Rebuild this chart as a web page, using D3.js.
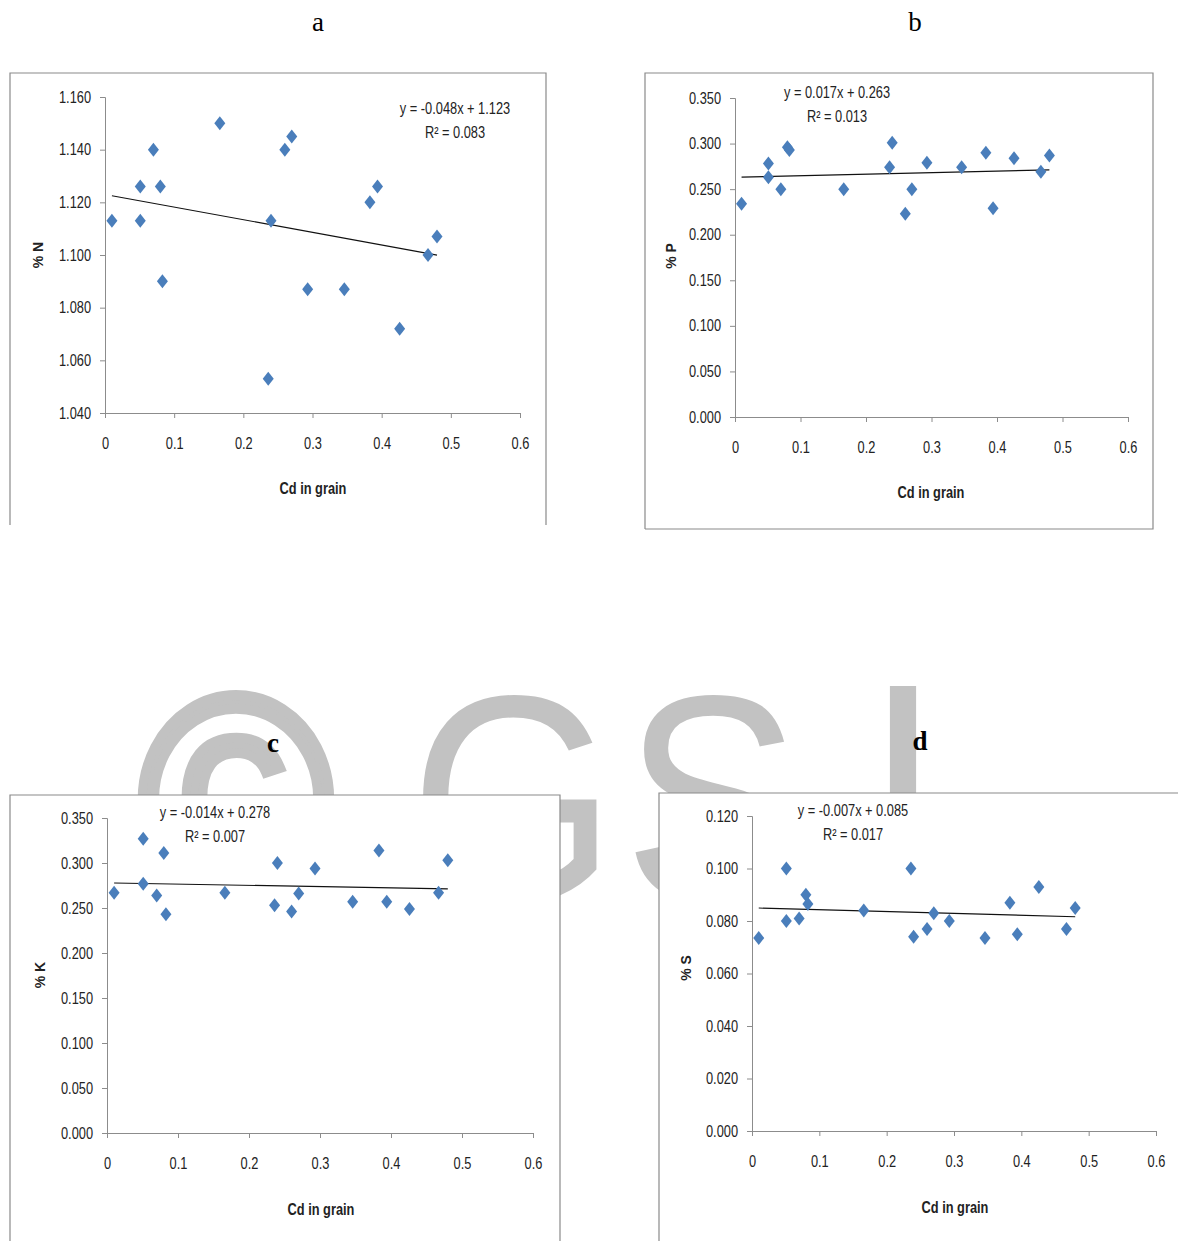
<!DOCTYPE html>
<html>
<head>
<meta charset="utf-8">
<script src="https://cdn.jsdelivr.net/npm/d3@7"></script>
<style>
  body { margin: 0; background: #fff; }
  svg { display: block; }
  .tick text { font-family: "Liberation Sans", Arial, sans-serif; font-size: 16px; fill: #222; }
  .tick line, .domain { stroke: #8c8c8c; }
</style>
</head>
<body>
<div id="chart"></div>
<script>
// values
var cdGrain = [0.010, 0.051, 0.051, 0.070, 0.080, 0.083, 0.166, 0.236, 0.240, 0.260, 0.270, 0.293, 0.346, 0.383, 0.394, 0.426, 0.467, 0.480];
var pctN = [1.113, 1.126, 1.113, 1.140, 1.126, 1.090, 1.150, 1.053, 1.113, 1.140, 1.145, 1.087, 1.087, 1.120, 1.126, 1.072, 1.100, 1.107];
var pctP = [0.234, 0.278, 0.263, 0.250, 0.296, 0.293, 0.250, 0.274, 0.301, 0.223, 0.250, 0.279, 0.274, 0.290, 0.229, 0.284, 0.269, 0.287];
var pctK = [0.267, 0.327, 0.277, 0.264, 0.311, 0.243, 0.267, 0.253, 0.300, 0.246, 0.266, 0.294, 0.257, 0.314, 0.257, 0.249, 0.267, 0.303];
var pctS = [0.0735, 0.100, 0.080, 0.081, 0.090, 0.0865, 0.084, 0.100, 0.074, 0.077, 0.083, 0.080, 0.0735, 0.087, 0.075, 0.093, 0.077, 0.085];

var panelLetters = ["a", "b", "c", "d"];
var yLabels = ["% N", "% P", "% K", "% S"];
var slopes = [-0.048, 0.017, -0.014, -0.007];
var intercepts = [1.123, 0.263, 0.278, 0.085];
var rSquared = ["0.083", "0.013", "0.007", "0.017"];
var yDomains = [[1.04, 1.16], [0, 0.35], [0, 0.35], [0, 0.12]];
var yTicks = [
  [1.04, 1.06, 1.08, 1.10, 1.12, 1.14, 1.16],
  [0, 0.05, 0.10, 0.15, 0.20, 0.25, 0.30, 0.35],
  [0, 0.05, 0.10, 0.15, 0.20, 0.25, 0.30, 0.35],
  [0, 0.02, 0.04, 0.06, 0.08, 0.10, 0.12]
];
var xTicks = [0, 0.1, 0.2, 0.3, 0.4, 0.5, 0.6];
var seriesList = [pctN, pctP, pctK, pctS];

// layout of each panel (pixels); frame = [left, top, right, bottom, drawBottomLine]
var layouts = [
  { frame: [10, 73, 546, 525, false], plot: [105, 520, 97, 413], yl: [38, 255], xl: [313, 488], eq: [455, 108], title: [318, 31], bold: false },
  { frame: [645, 73, 1153, 529, true], plot: [735, 1128, 98, 417], yl: [671, 256], xl: [931, 492], eq: [837, 92], title: [915, 31], bold: false },
  { frame: [10, 795, 560, 1246, false], plot: [107, 533, 818, 1133], yl: [40, 975], xl: [321, 1209], eq: [215, 812], title: [273, 752], bold: true },
  { frame: [659, 793, 1190, 1246, false], plot: [752, 1156, 816, 1131], yl: [686, 968], xl: [955, 1207], eq: [853, 810], title: [920, 750], bold: true }
];

var svgWidth = 1178;
var svgHeight = 1241;
var squeeze = 0.8;

var svg = d3.select("#chart").append("svg")
  .attr("width", svgWidth)
  .attr("height", svgHeight);

// squeeze a text horizontally to imitate the condensed font of the original
function condense(sel) {
  sel.each(function() {
    var w = this.getComputedTextLength();
    d3.select(this).attr("textLength", w * squeeze).attr("lengthAdjust", "spacingAndGlyphs");
  });
}

// watermark behind the panels
var wm = svg.append("g")
  .attr("fill", "#c2c2c2")
  .attr("font-size", 295);
var wmFont = '"Liberation Sans", Arial, sans-serif';
[["\u00A9", 236, 10, wmFont], ["G", 513, 0, wmFont], ["S", 712, 0, wmFont], ["J", 903, 0, '"DejaVu Sans", sans-serif']].forEach(function(w) {
  wm.append("text")
    .attr("transform", "translate(" + w[1] + ",901) scale(0.9,1)")
    .attr("text-anchor", "middle")
    .attr("font-family", w[3])
    .attr("stroke", w[2] ? "#c2c2c2" : "none")
    .attr("stroke-width", w[2])
    .text(w[0]);
});

var xFmt = function(d) { return d === 0 ? "0" : d3.format(".1f")(d); };
var yFmt = d3.format(".3f");

layouts.forEach(function(L, i) {
  var g = svg.append("g");
  var f = L.frame;

  // white panel background
  g.append("rect")
    .attr("x", f[0]).attr("y", f[1])
    .attr("width", f[2] - f[0]).attr("height", f[3] - f[1])
    .attr("fill", "#fff");

  // frame: left, top, right (+ bottom when visible)
  var pts = [[f[0], f[3]], [f[0], f[1]], [f[2], f[1]], [f[2], f[3]]];
  if (f[4]) pts.push([f[0], f[3]]);
  g.append("path")
    .attr("d", d3.line()(pts))
    .attr("fill", "none")
    .attr("stroke", "#8a8a8a")
    .attr("stroke-width", 1.2);

  // panel title
  svg.append("text")
    .attr("x", L.title[0]).attr("y", L.title[1])
    .attr("text-anchor", "middle")
    .attr("font-family", '"Liberation Serif", "Times New Roman", serif')
    .attr("font-size", 27)
    .attr("font-weight", L.bold ? "bold" : "normal")
    .text(panelLetters[i]);

  var x = d3.scaleLinear().domain([0, 0.6]).range([L.plot[0], L.plot[1]]);
  var y = d3.scaleLinear().domain(yDomains[i]).range([L.plot[3], L.plot[2]]);

  var xAxis = g.append("g")
    .attr("transform", "translate(0," + L.plot[3] + ")")
    .call(d3.axisBottom(x).tickValues(xTicks).tickFormat(xFmt).tickSize(5).tickPadding(20));

  var yAxis = g.append("g")
    .attr("transform", "translate(" + L.plot[0] + ",0)")
    .call(d3.axisLeft(y).tickValues(yTicks[i]).tickFormat(yFmt).tickSize(5).tickPadding(9));

  xAxis.selectAll("text").call(condense);
  yAxis.selectAll("text").call(condense);

  // trend line
  var series = seriesList[i];
  var x0 = d3.min(cdGrain), x1 = d3.max(cdGrain);
  g.append("line")
    .attr("x1", x(x0)).attr("y1", y(slopes[i] * x0 + intercepts[i]))
    .attr("x2", x(x1)).attr("y2", y(slopes[i] * x1 + intercepts[i]))
    .attr("stroke", "#111")
    .attr("stroke-width", 1.1);

  // diamond markers
  g.selectAll("path.pt")
    .data(series)
    .enter()
    .append("path")
    .attr("class", "pt")
    .attr("d", function(d, j) {
      var cx = x(cdGrain[j]), cy = y(d);
      return "M" + cx + "," + (cy - 7) + "L" + (cx + 5.5) + "," + cy +
        "L" + cx + "," + (cy + 7) + "L" + (cx - 5.5) + "," + cy + "Z";
    })
    .attr("fill", "#4a7ebb");

  // equation
  var s = slopes[i];
  var eqText = "y = " + (s < 0 ? "-" : "") + d3.format(".3f")(Math.abs(s)) + "x + " + d3.format(".3f")(intercepts[i]);
  g.append("text")
    .attr("x", L.eq[0]).attr("y", L.eq[1] + 6)
    .attr("text-anchor", "middle")
    .attr("font-family", '"Liberation Sans", Arial, sans-serif')
    .attr("font-size", 16)
    .attr("fill", "#222")
    .text(eqText)
    .call(condense);
  g.append("text")
    .attr("x", L.eq[0]).attr("y", L.eq[1] + 30)
    .attr("text-anchor", "middle")
    .attr("font-family", '"Liberation Sans", Arial, sans-serif')
    .attr("font-size", 16)
    .attr("fill", "#222")
    .text("R\u00B2 = " + rSquared[i])
    .call(condense);

  // axis titles
  g.append("text")
    .attr("transform", "translate(" + (L.yl[0] + 5) + "," + L.yl[1] + ") rotate(-90)")
    .attr("text-anchor", "middle")
    .attr("font-family", '"Liberation Sans", Arial, sans-serif')
    .attr("font-weight", "bold")
    .attr("font-size", 14)
    .attr("fill", "#222")
    .text(yLabels[i]);

  g.append("text")
    .attr("x", L.xl[0]).attr("y", L.xl[1] + 6)
    .attr("text-anchor", "middle")
    .attr("font-family", '"Liberation Sans", Arial, sans-serif')
    .attr("font-weight", "bold")
    .attr("font-size", 16)
    .attr("fill", "#222")
    .text("Cd in grain")
    .call(condense);
});
</script>
</body>
</html>
